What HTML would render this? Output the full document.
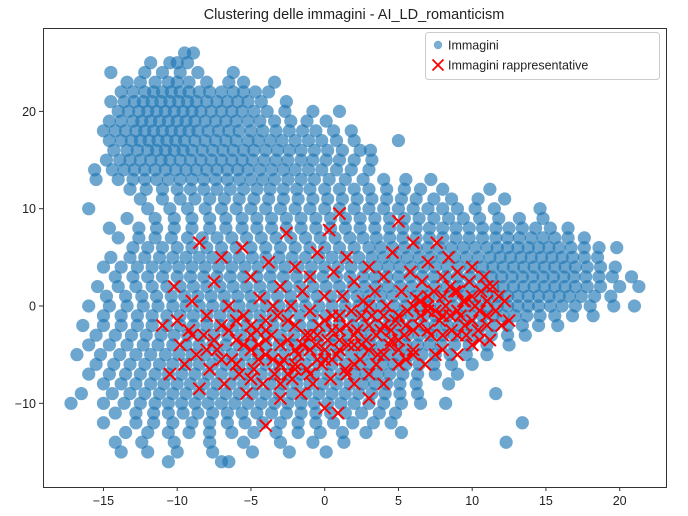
<!DOCTYPE html>
<html><head><meta charset="utf-8"><style>
body{margin:0;background:#fff;}
svg{display:block;font-family:"Liberation Sans","DejaVu Sans",sans-serif;}
</style></head><body>
<svg id="chart" width="688" height="516" viewBox="0 0 688 516" xmlns="http://www.w3.org/2000/svg">
<rect width="688" height="516" fill="#fff"/>
<text x="354" y="19" text-anchor="middle" font-size="14.5" fill="#222">Clustering delle immagini - AI_LD_romanticism</text>
<g id="blue"></g>
<g id="red"></g>
<g id="axes"></g>
<rect x="43.5" y="28.5" width="623" height="459" fill="none" stroke="#333" stroke-width="1"/>
<g>
<rect x="425.5" y="32.5" width="234" height="47" rx="3" fill="#fff" fill-opacity="0.8" stroke="#ccc"/>
<g>
<circle cx="438" cy="45" r="4.2" fill="#1f77b4" fill-opacity="0.6"/>
<text x="448" y="49.5" font-size="12.5" fill="#222">Immagini</text></g>
<g>
<path d="M432.5 59.5 L443.5 70.5 M443.5 59.5 L432.5 70.5" stroke="red" stroke-width="1.8"/>
<text x="448" y="69.5" font-size="12.5" fill="#222">Immagini rappresentative</text></g>
</g>
</svg>
<script>
const xTicks=[-15,-10,-5,0,5,10,15,20];
const yTicks=[-10,0,10,20];
const blueRowY=[26,25,24,23,22,21,20,19,18,17,16,15,14,13,12,11,10,9,8,7,6,5,4,3,2,1,0,-1,-2,-3,-4,-5,-6,-7,-8,-9,-10,-11,-12,-13,-14,-15,-16];
const blueRowX=[
[-9.5,-8.9],
[-11.8,-10.5,-10,-9.3],
[-14.5,-12.2,-11,-9.8,-8.6,-6.2],
[-13.4,-12.5,-11.5,-10.6,-10,-9.2,-8,-6.5,-5.5,-3.4],
[-13.8,-13,-12.2,-11.6,-11,-10.4,-9.8,-9.2,-8.5,-7.8,-7,-6.2,-5.5,-4.7,-3.8],
[-14.5,-13.6,-12.9,-12.3,-11.7,-11.1,-10.5,-9.9,-9.3,-8.7,-8,-7.3,-6.6,-5.9,-5.2,-4.3,-2.6],
[-14,-13.3,-12.6,-12,-11.4,-10.8,-10.2,-9.6,-9,-8.4,-7.7,-7,-6.3,-5.6,-4.8,-3.9,-2.7,-0.8,1],
[-14.6,-13.8,-13,-12.4,-11.8,-11.2,-10.6,-10,-9.4,-8.8,-8.1,-7.4,-6.7,-6,-5.2,-4.4,-3.4,-2.3,-1.2,0.1],
[-15,-14.2,-13.5,-12.8,-12.2,-11.6,-11,-10.4,-9.8,-9.2,-8.6,-7.9,-7.2,-6.5,-5.8,-5,-4.2,-3.3,-2.4,-1.5,-0.6,0.6,1.8],
[-14.6,-13.8,-13.1,-12.5,-11.9,-11.3,-10.7,-10.1,-9.5,-8.8,-8.1,-7.4,-6.7,-6,-5.2,-4.5,-3.7,-2.9,-2,-1.1,-0.2,0.8,2,5],
[-14.3,-13.4,-12.7,-12,-11.4,-10.8,-10.2,-9.6,-9,-8.3,-7.6,-6.9,-6.2,-5.5,-4.8,-4,-3.2,-2.4,-1.6,-0.7,0.2,1.2,2.4,3.1],
[-14.8,-13.9,-13.2,-12.5,-11.8,-11.1,-10.5,-9.8,-9.1,-8.4,-7.7,-7,-6.3,-5.6,-4.9,-4.1,-3.3,-2.5,-1.6,-0.8,0.1,1,2,3.2],
[-15.6,-14.4,-13.6,-12.9,-12.2,-11.5,-10.8,-10.1,-9.4,-8.7,-8,-7.3,-6.6,-5.9,-5.2,-4.4,-3.6,-2.8,-2,-1.1,-0.2,0.8,1.8,3],
[-15.5,-14,-13,-12.2,-11.4,-10.6,-9.8,-9,-8.2,-7.4,-6.6,-5.8,-5,-4.2,-3.4,-2.5,-1.6,-0.7,0.3,1.4,2.6,4,5.5,7.2],
[-13.2,-12.1,-11,-10,-9.1,-8.2,-7.3,-6.4,-5.5,-4.6,-3.7,-2.8,-1.9,-1,0,1,2,3,4.2,5.4,6.5,8,11.2],
[-12.5,-11,-9.8,-8.8,-7.8,-6.8,-5.8,-4.8,-3.8,-2.8,-1.8,-0.8,0.2,1.2,2.2,3.2,4.2,5.2,6.2,7.4,8.6,10.4,12.2],
[-16,-12,-10.5,-9.3,-8.1,-7,-6,-5,-4,-3,-2,-1,0,1,2,3,4,5,6,7,8,9,10.2,11.5,14.6],
[-13.4,-11.5,-10.2,-9,-7.8,-6.7,-5.6,-4.6,-3.6,-2.6,-1.6,-0.6,0.4,1.4,2.4,3.4,4.4,5.4,6.4,7.4,8.4,9.4,10.5,11.8,13.2,14.8],
[-14.6,-12.6,-11.4,-10.2,-9,-7.8,-6.7,-5.6,-4.6,-3.6,-2.6,-1.6,-0.6,0.4,1.4,2.4,3.4,4.4,5.3,6.2,7.1,8,8.9,9.8,10.7,11.6,12.5,13.4,14.3,15.3,16.5],
[-14,-12.6,-11.5,-10.4,-9.3,-8.3,-7.3,-6.3,-5.3,-4.3,-3.3,-2.3,-1.3,-0.3,0.7,1.7,2.6,3.5,4.4,5.3,6.2,7.1,8,8.9,9.8,10.7,11.6,12.4,13.2,14,14.8,15.6,16.5,17.6],
[-13,-12,-11,-10,-9,-8,-7,-6,-5,-4,-3,-2,-1,0,1,2,3,3.8,4.6,5.4,6.2,7,7.8,8.6,9.4,10.2,11,11.7,12.4,13.1,13.8,14.5,15.2,15.9,16.7,17.6,18.6,19.8],
[-14.5,-13.2,-12.2,-11.2,-10.3,-9.4,-8.5,-7.6,-6.7,-5.8,-4.9,-4,-3.1,-2.2,-1.3,-0.4,0.5,1.4,2.3,3.2,4,4.8,5.6,6.4,7.2,8,8.8,9.6,10.4,11.2,11.9,12.6,13.3,14,14.7,15.4,16.1,16.8,17.6,18.5],
[-15,-13.8,-12.7,-11.7,-10.8,-9.9,-9,-8.1,-7.2,-6.3,-5.4,-4.5,-3.6,-2.7,-1.8,-0.9,0,0.9,1.8,2.7,3.5,4.3,5.1,5.9,6.7,7.5,8.3,9.1,9.9,10.7,11.4,12.1,12.8,13.5,14.2,14.9,15.6,16.3,17,17.8,18.7,19.7],
[-14.2,-13,-12,-11,-10,-9.1,-8.2,-7.3,-6.4,-5.5,-4.6,-3.7,-2.8,-1.9,-1,-0.1,0.8,1.7,2.6,3.4,4.2,5,5.8,6.6,7.4,8.2,9,9.8,10.6,11.3,12,12.7,13.4,14.1,14.8,15.5,16.2,16.9,17.7,18.6,19.5,20.8],
[-15.4,-14,-12.8,-11.7,-10.7,-9.8,-8.9,-8,-7.1,-6.2,-5.3,-4.4,-3.5,-2.6,-1.7,-0.8,0.1,1,1.9,2.7,3.5,4.3,5.1,5.9,6.7,7.5,8.3,9.1,9.9,10.7,11.4,12.1,12.8,13.5,14.2,14.9,15.6,16.3,17,17.8,18.7,20,21.3],
[-14.8,-13.5,-12.4,-11.4,-10.4,-9.5,-8.6,-7.7,-6.8,-5.9,-5,-4.1,-3.2,-2.3,-1.4,-0.5,0.4,1.3,2.2,3,3.8,4.6,5.4,6.2,7,7.8,8.6,9.4,10.2,11,11.7,12.4,13.1,13.8,14.5,15.2,15.9,16.6,17.4,18.3,19.4],
[-16,-14.6,-13.4,-12.3,-11.3,-10.3,-9.4,-8.5,-7.6,-6.7,-5.8,-4.9,-4,-3.1,-2.2,-1.3,-0.4,0.5,1.4,2.3,3.1,3.9,4.7,5.5,6.3,7.1,7.9,8.7,9.5,10.3,11,11.7,12.4,13.1,13.8,14.5,15.3,16.1,17,18,19.6,21],
[-15,-13.8,-12.7,-11.7,-10.7,-9.8,-8.9,-8,-7.1,-6.2,-5.3,-4.4,-3.5,-2.6,-1.7,-0.8,0.1,1,1.9,2.7,3.5,4.3,5.1,5.9,6.7,7.5,8.3,9.1,9.9,10.7,11.4,12.1,12.9,13.7,14.6,15.6,16.8,18.2],
[-16.4,-15,-13.8,-12.7,-11.7,-10.7,-9.8,-8.9,-8,-7.1,-6.2,-5.3,-4.4,-3.5,-2.6,-1.7,-0.8,0.1,1,1.9,2.7,3.5,4.3,5.1,5.9,6.7,7.5,8.3,9.1,9.9,10.7,11.5,12.4,13.4,14.5,15.8],
[-15.5,-14.2,-13.1,-12.1,-11.1,-10.2,-9.3,-8.4,-7.5,-6.6,-5.7,-4.8,-3.9,-3,-2.1,-1.2,-0.3,0.6,1.5,2.4,3.2,4,4.8,5.6,6.4,7.2,8,8.8,9.6,10.4,11.3,12.4,13.6],
[-16,-14.6,-13.4,-12.3,-11.3,-10.3,-9.4,-8.5,-7.6,-6.7,-5.8,-4.9,-4,-3.1,-2.2,-1.3,-0.4,0.5,1.4,2.3,3.1,3.9,4.7,5.5,6.3,7.1,7.9,8.8,9.8,11,12.5],
[-16.8,-15.2,-13.9,-12.8,-11.8,-10.8,-9.9,-9,-8.1,-7.2,-6.3,-5.4,-4.5,-3.6,-2.7,-1.8,-0.9,0,0.9,1.8,2.6,3.4,4.2,5,5.8,6.6,7.5,8.5,9.6,11],
[-15.5,-14.3,-13.2,-12.2,-11.2,-10.3,-9.4,-8.5,-7.6,-6.7,-5.8,-4.9,-4,-3.1,-2.2,-1.3,-0.4,0.5,1.4,2.3,3.1,3.9,4.7,5.5,6.4,7.4,8.6,10],
[-16,-14.6,-13.5,-12.5,-11.5,-10.6,-9.7,-8.8,-7.9,-7,-6.1,-5.2,-4.3,-3.4,-2.5,-1.6,-0.7,0.2,1.1,2,2.8,3.6,4.4,5.3,6.3,7.5,9],
[-15,-13.8,-12.8,-11.8,-10.9,-10,-9.1,-8.2,-7.3,-6.4,-5.5,-4.6,-3.7,-2.8,-1.9,-1,-0.1,0.8,1.7,2.6,3.4,4.2,5.1,6.2,8.4],
[-16.5,-14.4,-13.2,-12.2,-11.2,-10.3,-9.4,-8.5,-7.6,-6.7,-5.8,-4.9,-4,-3.1,-2.2,-1.3,-0.4,0.5,1.4,2.3,3.2,4.1,5.1,6.3,11.6],
[-17.2,-15,-13.6,-12.5,-11.5,-10.6,-9.7,-8.8,-7.9,-7,-6.1,-5.2,-4.3,-3.4,-2.5,-1.6,-0.7,0.2,1.1,2,3,4,5.2,6.5,8.2],
[-14.2,-12.8,-11.6,-10.6,-9.6,-8.6,-7.6,-6.6,-5.6,-4.6,-3.6,-2.6,-1.6,-0.6,0.4,1.4,2.5,3.7,4.8],
[-15,-12.8,-11.6,-10.3,-9,-7.8,-6.6,-5.4,-4.2,-3,-1.8,-0.6,0.6,1.9,3.3,4.5,13.4],
[-13.5,-12,-10.6,-9.2,-7.8,-6.3,-4.8,-3.3,-1.8,-0.3,1.2,2.8,5.2],
[-14.2,-12.4,-10.2,-7.8,-5.5,-3,-0.8,1.3,12.3],
[-13.8,-12,-10,-7.6,-4.9,-2.4,0.1],
[-10.6,-7,-6.5]
];
const redX=[-11,-10.5,-10.2,-10,-9.8,-9.5,-9.2,-9,-8.7,-8.5,-8.5,-8.2,-8,-7.8,-7.5,-7.3,-7,-7,-6.8,-6.5,-6.3,-6,-5.8,-5.6,-5.5,-5.3,-5,-5,-4.8,-4.6,-4.4,-4.2,-4,-4,-3.8,-3.6,-3.4,-3.2,-3,-3,-2.8,-2.6,-2.5,-2.3,-2.2,-2,-2,-1.8,-1.6,-1.5,-1.3,-1.2,-1,-1,-0.8,-0.6,-0.5,-0.4,-0.2,0,0,0.2,0.3,0.4,0.5,0.6,0.8,0.9,1,1,1.2,1.4,1.5,1.6,1.8,2,2,2.2,2.4,2.6,2.8,3,3,3.2,3.4,3.6,3.8,4,4,4.2,4.4,4.6,4.8,5,5,5.2,5.4,5.6,5.8,6,6,6.2,6.4,6.6,6.8,7,7,7.2,7.4,7.6,7.8,8,8,8.2,8.4,8.6,8.8,9,9,9.2,9.4,9.6,9.8,10,10,10.2,10.4,10.6,10.8,11,11,11.2,11.4,11.6,11.8,12,12.2,12.5,3,-7,-9,-6,-4,2,6,4,-2,0,1,3,5,7,8,9,-1,-3,-5,-8,
-7.5,-6.5,-6,-5.5,-5,-4.5,-4,-3.5,-3,-2.5,-2,-1.5,-1,-0.5,0,0.5,1,1.5,2,2.5,3,3.5,4,4.5,5,5.5,6,6.5,7,7.5,8,8.5,9,9.5,10,10.5,11,
-6,-5,-4,-3,-2,-1,0,1,2,3,4,5,6,7,8,9,10,11,-4.5,-3.5,-2.5,-1.5,-0.5,0.5,1.5,2.5,3.5,4.5,5.5,6.5,7.5,8.5,9.5,10.5];
const redY=[-2,-7,2,-1.5,-4,-6,-2.5,0.5,-5,-8.5,6.5,-3,-1,-6.5,2.5,-4.5,-2,5,-8,0,-5.5,-3.5,-7,6,-1,-9,-4.5,3,-6.5,-2.5,0.8,-8,-12.3,-5,4.5,-3,-7,-1,2,-9.5,-5.5,7.5,-3.5,0,-7.5,-2,4,-5,-9,1.5,-3,-6.5,-0.5,3,-8,-4,5.5,-2,-6,1,-10.5,-3.5,7.8,-7.5,-1,3.5,-5,-11,9.5,-2.5,1,-6.5,5,-4,-0.5,-8,2.5,-2.5,-5.5,0.5,-3.5,4,-7,-1,1.5,-5,-2.5,3,-8,0,-4,5.5,-1.5,8.7,-6,1.5,-3,-0.5,3.5,-4.5,6.5,0.8,-2,2.5,-6,4.5,-0.5,-3,1.5,6.5,-1.5,3,-4.5,0,5,-2.5,1.5,-5,3.5,-1,0.5,-3,2.5,-1.5,4,0,-2.5,1.5,3,-1,0.5,-3.5,2,-0.5,1,-2,0.5,-1.5,-9.5,-5.5,-3,-1.5,-1.5,-4,-2.5,-5,-4.5,-4.5,-3.5,-2,-1,1,-1,1.5,-3,-4,-3,-4.5,
-3.5,-2.5,-6,-4,-2,-5.5,-3.5,-5.5,-6,-1.5,-6,-4,-4.5,-3,-1.5,-5.5,-4.5,-2,-3,-4,-4.5,-3,-1,-2.5,-3.5,-2,0,-1,-2.5,-0.5,1,-1,-0.5,-2,1,-0.5,2,
-6,-7.5,-2.5,-8,-6.5,-7,-5.5,-1,-6,0,-2,-4.5,-5,0,-3,-3,-4,-2,-4,0,-7,-4,-5.5,-2.5,-7,-1,-6,-3.5,-5.5,0.5,-5,2,0.5,-3.5];

const X0=-19.1,X1=23.14,Y0=-18.6,Y1=28.57,L=43,R=666,T=28,B=487;
function sx(v){return L+(v-X0)/(X1-X0)*(R-L);}
function sy(v){return B-(v-Y0)/(Y1-Y0)*(B-T);}
const NS="http://www.w3.org/2000/svg";
const blueG=document.getElementById('blue');
blueRowY.forEach((y,i)=>{
  blueRowX[i].forEach(x=>{
    const c=document.createElementNS(NS,'circle');
    c.setAttribute('cx',sx(x));c.setAttribute('cy',sy(y));c.setAttribute('r',6.6);
    c.setAttribute('fill','#1f77b4');c.setAttribute('fill-opacity','0.65');
    
    
    blueG.appendChild(c);
  });
});
const redG=document.getElementById('red');
redX.forEach((x,i)=>{
  const cx=sx(x),cy=sy(redY[i]),h=6;
  const p=document.createElementNS(NS,'path');
  p.setAttribute('d',`M${cx-h} ${cy-h}L${cx+h} ${cy+h}M${cx+h} ${cy-h}L${cx-h} ${cy+h}`);
  p.setAttribute('stroke','red');p.setAttribute('stroke-width','2');
  
  
  redG.appendChild(p);
});
const ax=document.getElementById('axes');
xTicks.forEach(t=>{
  const x=sx(t);
  const l=document.createElementNS(NS,'line');
  l.setAttribute('x1',x);l.setAttribute('x2',x);l.setAttribute('y1',B);l.setAttribute('y2',B+4);l.setAttribute('stroke','#333');
  
  
  ax.appendChild(l);
  const tx=document.createElementNS(NS,'text');
  tx.setAttribute('x',x);tx.setAttribute('y',B+18);tx.setAttribute('text-anchor','middle');tx.setAttribute('font-size','12.5');tx.setAttribute('fill','#222');
  tx.textContent=t<0?'\u2212'+(-t):String(t);
  
  
  ax.appendChild(tx);
});
yTicks.forEach(t=>{
  const y=sy(t);
  const l=document.createElementNS(NS,'line');
  l.setAttribute('x1',L-4);l.setAttribute('x2',L);l.setAttribute('y1',y);l.setAttribute('y2',y);l.setAttribute('stroke','#333');
  
  
  ax.appendChild(l);
  const tx=document.createElementNS(NS,'text');
  tx.setAttribute('x',L-7);tx.setAttribute('y',y+4.5);tx.setAttribute('text-anchor','end');tx.setAttribute('font-size','12.5');tx.setAttribute('fill','#222');
  tx.textContent=t<0?'\u2212'+(-t):String(t);
  
  
  ax.appendChild(tx);
});
</script>
</body></html>
